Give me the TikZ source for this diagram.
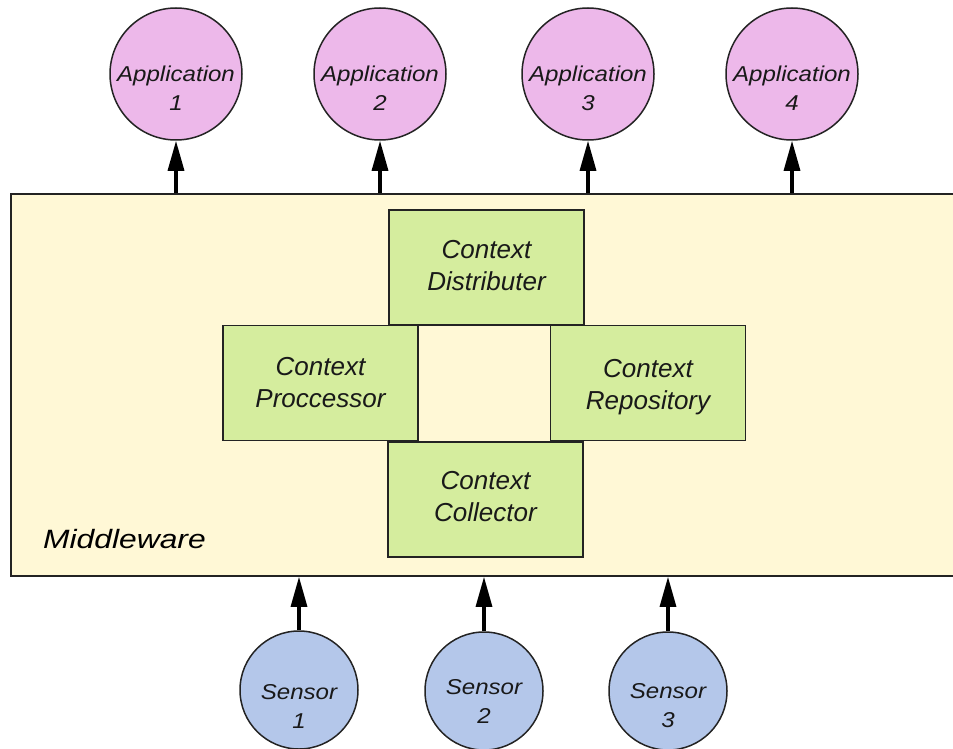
\documentclass[tikz,border=0pt]{standalone}
\usepackage{fontspec}
\setmainfont{Liberation Sans}
\newfontfamily\widesans[FakeStretch=1.12]{Liberation Sans}
\newfontfamily\widersans[FakeStretch=1.2]{Liberation Sans}
\usetikzlibrary{arrows.meta}
\definecolor{apppink}{RGB}{237,184,234}
\definecolor{sensblue}{RGB}{180,199,234}
\definecolor{boxgreen}{RGB}{213,237,158}
\definecolor{mwcream}{RGB}{255,248,214}
\definecolor{edge}{RGB}{35,35,35}
\tikzset{
  appc/.style={circle, draw=edge, line width=1.5pt, fill=apppink, minimum size=132pt, inner sep=0pt},
  sensc/.style={circle, draw=edge, line width=1.5pt, fill=sensblue, minimum size=118pt, inner sep=0pt},
  circtxt/.style={align=center, inner sep=0pt, font=\widesans\itshape\fontsize{21.5}{29}\selectfont, text=black!90},
  ctxbox/.style={draw=edge, line width=1.7pt, fill=boxgreen, minimum width=195pt, minimum height=115pt, inner sep=0pt},
  ctxtxt/.style={align=center, inner sep=0pt, font=\itshape\fontsize{26}{32}\selectfont, text=black!90},
  flow/.style={line width=3.2pt, -{Triangle[length=30pt, width=16pt]}},
}
\begin{document}
\begin{tikzpicture}[x=1pt, y=-1pt]
  \useasboundingbox (0,0) rectangle (953,749);
  \clip (0,0) rectangle (953,749);

  % middleware layer (runs off the right edge)
  \node[draw=edge, line width=1.8pt, fill=mwcream, minimum width=970pt, minimum height=382pt,
        inner sep=0pt, anchor=north west] (mw) at (10,193) {};
  \node[anchor=base west, inner sep=0pt, font=\widersans\itshape\fontsize{26.5}{30}\selectfont] (mwlabel) at (43,548) {Middleware};

  % context components
  \node[ctxbox] (dist) at (486.5,267.5) {};
  \node[ctxtxt] (distt) at (486.5,266) {Context\\Distributer};
  \node[ctxbox] (proc) at (320.5,383) {};
  \node[ctxtxt] (proct) at (320.5,383) {Context\\Proccessor};
  \node[ctxbox] (repo) at (648,383) {};
  \node[ctxtxt] (repot) at (648,387) {Context\\Repository};
  \node[ctxbox] (coll) at (485.5,499.5) {};
  \node[ctxtxt] (collt) at (485.5,497) {Context\\Collector};

  % applications
  \node[appc] (app1) at (176,74) {};
  \node[circtxt] (app1t) at (176,88) {Application\\1};
  \node[appc] (app2) at (380,74) {};
  \node[circtxt] (app2t) at (380,88) {Application\\2};
  \node[appc] (app3) at (588,74) {};
  \node[circtxt] (app3t) at (588,88) {Application\\3};
  \node[appc] (app4) at (792,74) {};
  \node[circtxt] (app4t) at (792,88) {Application\\4};

  % sensors
  \node[sensc] (sen1) at (299,690) {};
  \node[circtxt] (sen1t) at (299,706) {Sensor\\1};
  \node[sensc] (sen2) at (484,691) {};
  \node[circtxt] (sen2t) at (484,701) {Sensor\\2};
  \node[sensc] (sen3) at (668,691) {};
  \node[circtxt] (sen3t) at (668,706) {Sensor\\3};

  % data flow
  \foreach \a in {app1,app2,app3,app4}
    \draw[flow] (\a |- mw.north) -- (\a.south);
  \foreach \s in {sen1,sen2,sen3}
    \draw[flow] (\s.north) -- (\s |- mw.south);
\end{tikzpicture}
\end{document}
